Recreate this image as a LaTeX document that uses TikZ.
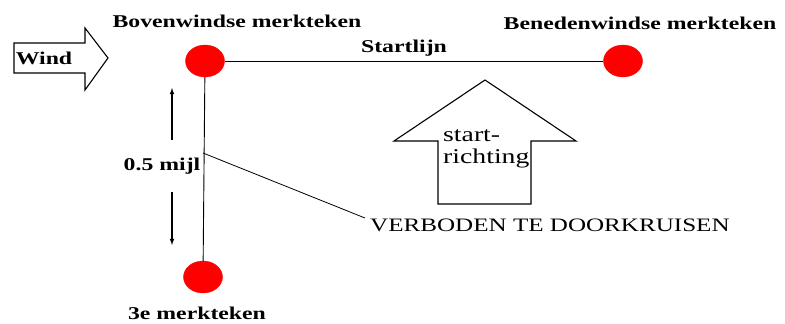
\documentclass[tikz,border=0pt]{standalone}
\usepackage{fontspec}
\setmainfont{Liberation Serif}
\usetikzlibrary{shapes.geometric}
\tikzset{>=latex}
\newcommand{\wt}[1]{\scalebox{1.32}[1]{#1}}
\tikzset{
  merk/.style={ellipse,fill=red,draw=red,minimum width=39pt,minimum height=32pt,inner sep=0pt},
  lbl/.style={font=\bfseries\fontsize{18}{20}\selectfont,inner sep=0pt},
  pijl/.style={draw,line width=1.1pt,fill=white}
}
\begin{document}
\begin{tikzpicture}[x=1pt,y=-1pt]
  \useasboundingbox (0,0) rectangle (785,324);
  % wind
  \draw[pijl] (14,43) -- (85,43) -- (85,28) -- (108,58) -- (85,90) -- (85,73) -- (14,73) -- cycle;
  \node[lbl] (wind) at (44,58) {\wt{Wind}};
  % merktekens
  \node[merk] (bw) at (205,61) {};
  \node[merk] (bn) at (623,61) {};
  \node[merk] (dm) at (203,277) {};
  \node[lbl] (bwl) at (237,21) {\wt{Bovenwindse merkteken}};
  \node[lbl] (bnl) at (640,23) {\wt{Benedenwindse merkteken}};
  \node[lbl] (dml) at (197,313) {\wt{3e merkteken}};
  \draw[line width=0.9pt] (bw) -- (bn);
  \node[lbl] (sl) at (404,48) {\wt{Startlijn}};
  \draw[line width=0.9pt] (bw) -- (dm);
  % afstand
  \node[lbl] (mijl) at (162,166) {\wt{0.5 mijl}};
  \coordinate (a1) at (172,140);
  \coordinate (a2) at (172,88);
  \coordinate (a3) at (172,192);
  \coordinate (a4) at (172,245);
  \draw[->,line width=1.1pt] (a1) -- (a2);
  \draw[->,line width=1.1pt] (a3) -- (a4);
  % verboden
  \coordinate (vl) at (203,153);
  \node[anchor=west,font=\fontsize{19}{21}\selectfont,inner sep=0pt] (verb) at (370,225) {\wt{VERBODEN TE DOORKRUISEN}};
  \draw[line width=0.8pt] (vl) -- ([xshift=-5pt,yshift=7pt]verb.west);
  % startrichting
  \draw[pijl] (438,204) -- (438,141) -- (394,141) -- (485,80) -- (576,141) -- (531,141) -- (531,204) -- cycle;
  \node[font=\fontsize{21}{22}\selectfont,anchor=base west,inner sep=0pt] (st) at (443,141) {\wt{start-}};
  \node[font=\fontsize{21}{22}\selectfont,anchor=base west,inner sep=0pt] (ri) at (443,163) {\wt{richting}};
\end{tikzpicture}
\end{document}
